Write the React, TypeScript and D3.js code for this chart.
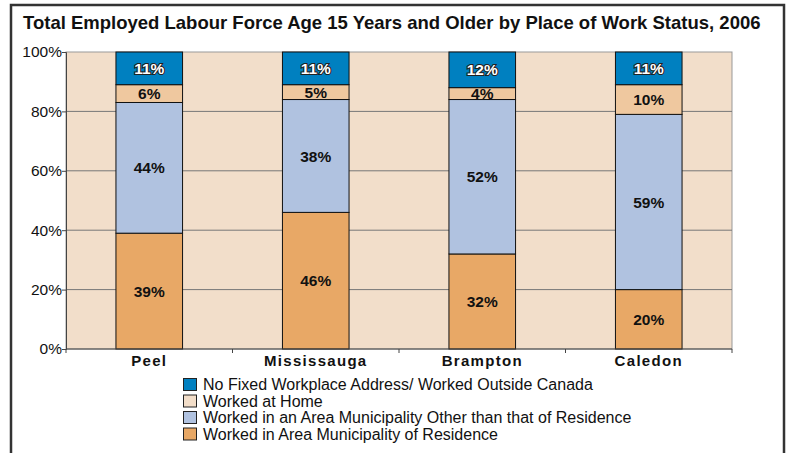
import React, { useEffect, useRef } from 'react'
import * as d3 from 'd3'

const title = 'Total Employed Labour Force Age 15 Years and Older by Place of Work Status, 2006'
const places = ['Peel', 'Mississauga', 'Brampton', 'Caledon']
const seriesNames = [
  'Worked in Area Municipality of Residence',
  'Worked in an Area Municipality Other than that of Residence',
  'Worked at Home',
  'No Fixed Workplace Address/ Worked Outside Canada',
]
const residence = [39, 46, 32, 20]
const otherMunicipality = [44, 38, 52, 59]
const atHome = [6, 5, 4, 10]
const noFixed = [11, 11, 12, 11]
const yTicks = [0, 20, 40, 60, 80, 100]

const colors = ['#E8A866', '#B0C2E0', '#EFC89F', '#0080C0']
const legendColors = ['#E8A866', '#B0C2E0', '#F3DEC9', '#0080C0']

function App() {
  const svgRef = useRef<SVGSVGElement>(null)

  useEffect(() => {
    const width = 788
    const height = 453
    const m = { left: 66, right: 732, top: 52, bottom: 349 }
    const font = "'Liberation Sans', Arial, sans-serif"

    const svg = d3.select(svgRef.current)
    svg.selectAll('*').remove()
    svg.attr('width', width).attr('height', height)

    svg.append('rect').attr('width', width).attr('height', height).attr('fill', '#fff')
    svg.append('rect')
      .attr('x', 11).attr('y', 5).attr('width', 773).attr('height', 460)
      .attr('fill', 'none').attr('stroke', '#333').attr('stroke-width', 2.5)

    svg.append('text')
      .attr('x', 23).attr('y', 29)
      .attr('font-family', font).attr('font-weight', 'bold').attr('font-size', 18.5)
      .attr('fill', '#111')
      .text(title)

    const x = d3.scaleBand().domain(places).range([m.left, m.right]).padding(0)
    const y = d3.scaleLinear().domain([0, 100]).range([m.bottom, m.top])

    svg.append('rect')
      .attr('x', m.left).attr('y', m.top)
      .attr('width', m.right - m.left).attr('height', m.bottom - m.top)
      .attr('fill', '#F2DECA').attr('stroke', '#999').attr('stroke-width', 1)

    svg.append('g').selectAll('line')
      .data(yTicks.filter(t => t > 0 && t < 100))
      .join('line')
      .attr('x1', m.left).attr('x2', m.right)
      .attr('y1', d => y(d)).attr('y2', d => y(d))
      .attr('stroke', '#777').attr('stroke-width', 1)

    const table = places.map((p, i) => ({
      place: p,
      values: [residence[i], otherMunicipality[i], atHome[i], noFixed[i]],
    }))
    const stackData = places.map((p, i) => ({
      place: p, s0: residence[i], s1: otherMunicipality[i], s2: atHome[i], s3: noFixed[i],
    }))
    const stack = d3.stack<any>().keys(['s0', 's1', 's2', 's3'])(stackData)

    const barW = x.bandwidth() * 0.4
    const bars = svg.append('g')
    stack.forEach((layer, li) => {
      const g = bars.append('g')
      g.selectAll('rect')
        .data(layer)
        .join('rect')
        .attr('x', (d: any) => x(d.data.place)! + (x.bandwidth() - barW) / 2)
        .attr('y', (d: any) => y(d[1]))
        .attr('width', barW)
        .attr('height', (d: any) => y(d[0]) - y(d[1]))
        .attr('fill', colors[li])
        .attr('stroke', '#111').attr('stroke-width', 1)
      g.selectAll('text')
        .data(layer)
        .join('text')
        .attr('x', (d: any) => x(d.data.place)! + x.bandwidth() / 2)
        .attr('y', (d: any) => (y(d[0]) + y(d[1])) / 2)
        .attr('dy', '0.36em')
        .attr('text-anchor', 'middle')
        .attr('font-family', font).attr('font-weight', 'bold').attr('font-size', 15.5)
        .attr('fill', li === 3 ? '#fff' : '#111')
        .attr('stroke', li === 3 ? '#222' : 'none')
        .attr('stroke-width', li === 3 ? 2.2 : 0)
        .attr('paint-order', 'stroke')
        .text((d: any, i) => `${table[i].values[li]}%`)
    })

    const yAxis = d3.axisLeft(y).tickValues(yTicks).tickSize(4).tickFormat(d => `${d}%`)
    const ya = svg.append('g').attr('transform', `translate(${m.left},0)`).call(yAxis)
    ya.select('.domain').attr('stroke', '#444')
    ya.selectAll('.tick line').attr('stroke', '#444')
    ya.selectAll('.tick text')
      .attr('font-family', font).attr('font-size', 15.5).attr('fill', '#111').attr('x', -4)

    const xa = svg.append('g').attr('transform', `translate(0,${m.bottom})`)
    xa.append('line')
      .attr('x1', m.left).attr('x2', m.right).attr('y1', 0).attr('y2', 0)
      .attr('stroke', '#444')
    xa.selectAll('line.tk')
      .data([...places.map(p => x(p)!), m.right])
      .join('line')
      .attr('class', 'tk')
      .attr('x1', d => d).attr('x2', d => d).attr('y1', 0).attr('y2', 4)
      .attr('stroke', '#444')
    xa.selectAll('text')
      .data(places)
      .join('text')
      .attr('x', d => x(d)! + x.bandwidth() / 2)
      .attr('y', 17)
      .attr('text-anchor', 'middle')
      .attr('font-family', font).attr('font-weight', 'bold').attr('font-size', 15)
      .attr('letter-spacing', 1.3)
      .attr('fill', '#111')
      .text(d => d)

    const legendOrder = [3, 2, 1, 0]
    const lg = svg.append('g').attr('transform', 'translate(183,378)')
    legendOrder.forEach((si, i) => {
      const row = lg.append('g').attr('transform', `translate(0,${i * 16.5})`)
      row.append('rect')
        .attr('x', 0.5).attr('y', 0.5).attr('width', 13).attr('height', 12)
        .attr('fill', legendColors[si]).attr('stroke', '#222').attr('stroke-width', 1)
      row.append('text')
        .attr('x', 20).attr('y', 12)
        .attr('font-family', font).attr('font-size', 16).attr('fill', '#111')
        .text(seriesNames[si])
    })
  }, [])

  return (
    <div style={{ position: 'absolute', left: 0, top: 0 }}>
      <svg ref={svgRef} style={{ display: 'block' }}></svg>
    </div>
  )
}

export default App
